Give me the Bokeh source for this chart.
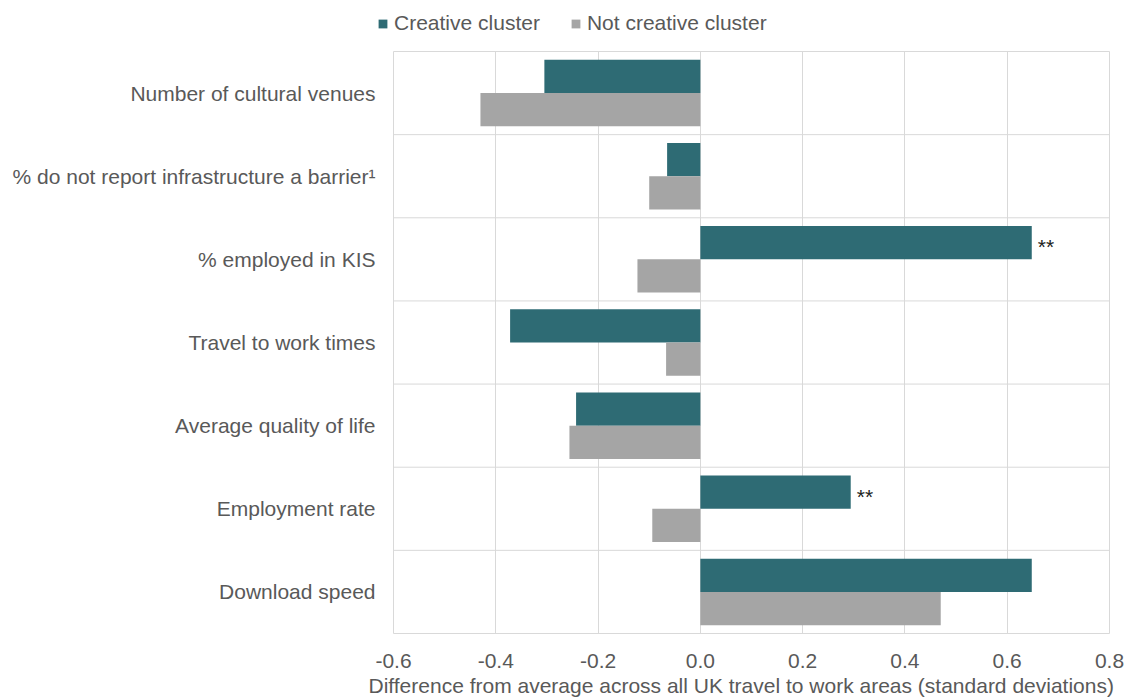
from bokeh.plotting import figure
from bokeh.models import (ColumnDataSource, FactorRange, Range1d, FixedTicker, NumeralTickFormatter,
                          Legend, LegendItem, Span, Title)
from bokeh.layouts import column, row
from bokeh.transform import dodge
from bokeh.core.properties import value
from bokeh.embed import file_html
from bokeh.resources import INLINE

categories = ["Number of cultural venues",
              "% do not report infrastructure a barrier\u00b9",
              "% employed in KIS",
              "Travel to work times",
              "Average quality of life",
              "Employment rate",
              "Download speed"]
creative = [-0.305, -0.065, 0.648, -0.372, -0.243, 0.294, 0.648]
not_creative = [-0.430, -0.100, -0.123, -0.067, -0.256, -0.094, 0.470]
significance = ["", "", "**", "", "", "**", ""]
series_names = ["Creative cluster", "Not creative cluster"]
x_ticks = [-0.6, -0.4, -0.2, 0.0, 0.2, 0.4, 0.6, 0.8]
x_title = "Difference from average across all UK travel to work areas (standard deviations)"

TEAL = "#2E6B74"
GREY = "#A5A5A5"
TEXT = "#595959"
GRID = "#D9D9D9"
FONT = "Liberation Sans"

W = 1124
LEG_H = 51
MAIN_H = 697 - LEG_H
BL, BR, BB = 393, 15, 64

src = ColumnDataSource(dict(cat=categories, creative=creative, notc=not_creative, sig=significance))
sig_src = ColumnDataSource(dict(
    cat=[c for c, s in zip(categories, significance) if s],
    x=[v for v, s in zip(creative, significance) if s],
    sig=[s for s in significance if s]))

# ---- legend strip ----
lf = figure(width=W, height=LEG_H, output_backend="svg", toolbar_location=None,
            x_range=Range1d(0, 1), y_range=Range1d(0, 1),
            min_border=0, min_border_left=0, min_border_right=0,
            min_border_top=0, min_border_bottom=0)
lf.axis.visible = False
lf.grid.grid_line_color = None
lf.outline_line_color = None
d1 = lf.hbar(y=[5], left=[5], right=[6], height=0.4, fill_color=TEAL, line_color=None)
d2 = lf.hbar(y=[5], left=[5], right=[6], height=0.4, fill_color=GREY, line_color=None)
legend = Legend(items=[LegendItem(label=series_names[0], renderers=[d1]),
                       LegendItem(label=series_names[1], renderers=[d2])],
                orientation="horizontal", location=(377, 16),
                label_text_font=FONT, label_text_font_size="21px", label_text_color=TEXT,
                glyph_width=11, glyph_height=11, label_standoff=6, spacing=30,
                padding=0, margin=0, border_line_color=None, background_fill_alpha=0)
lf.add_layout(legend)

# ---- main chart ----
p = figure(width=W, height=MAIN_H, output_backend="svg", toolbar_location=None,
           y_range=FactorRange(factors=list(reversed(categories)), range_padding=0),
           x_range=Range1d(-0.6, 0.8),
           min_border_left=BL, min_border_right=BR, min_border_top=0, min_border_bottom=BB)

p.hbar(y=dodge("cat", 0.2, range=p.y_range), left=0, right="creative", height=0.4,
       source=src, fill_color=TEAL, line_color=None)
p.hbar(y=dodge("cat", -0.2, range=p.y_range), left=0, right="notc", height=0.4,
       source=src, fill_color=GREY, line_color=None)

p.text(x="x", y=dodge("cat", 0.2, range=p.y_range), text="sig", source=sig_src,
       x_offset=6, y_offset=4, text_baseline="middle", text_align="left",
       text_font=value(FONT), text_font_size="21px", text_color="#222222")

for i in range(1, len(categories)):
    p.add_layout(Span(location=i, dimension="width", line_color=GRID, line_width=1))

p.outline_line_color = GRID
p.outline_line_width = 1
p.ygrid.grid_line_color = None
p.xgrid.grid_line_color = GRID
p.xaxis.ticker = FixedTicker(ticks=x_ticks)
p.xaxis.formatter = NumeralTickFormatter(format="0.0")

for ax in (p.xaxis[0], p.yaxis[0]):
    ax.axis_line_color = None
    ax.major_tick_line_color = None
    ax.minor_tick_line_color = None
    ax.major_label_text_font = FONT
    ax.major_label_text_font_size = "21px"
    ax.major_label_text_color = TEXT

p.xaxis.major_label_standoff = 14
p.yaxis.major_label_standoff = 12

p.add_layout(Title(text=x_title, align="left", offset=-25, standoff=2,
                   text_font=FONT, text_font_size="21px", text_font_style="normal",
                   text_color=TEXT), "below")

layout = column(row(lf), p, spacing=0)
open("out.html", "w").write(file_html(layout, INLINE))
